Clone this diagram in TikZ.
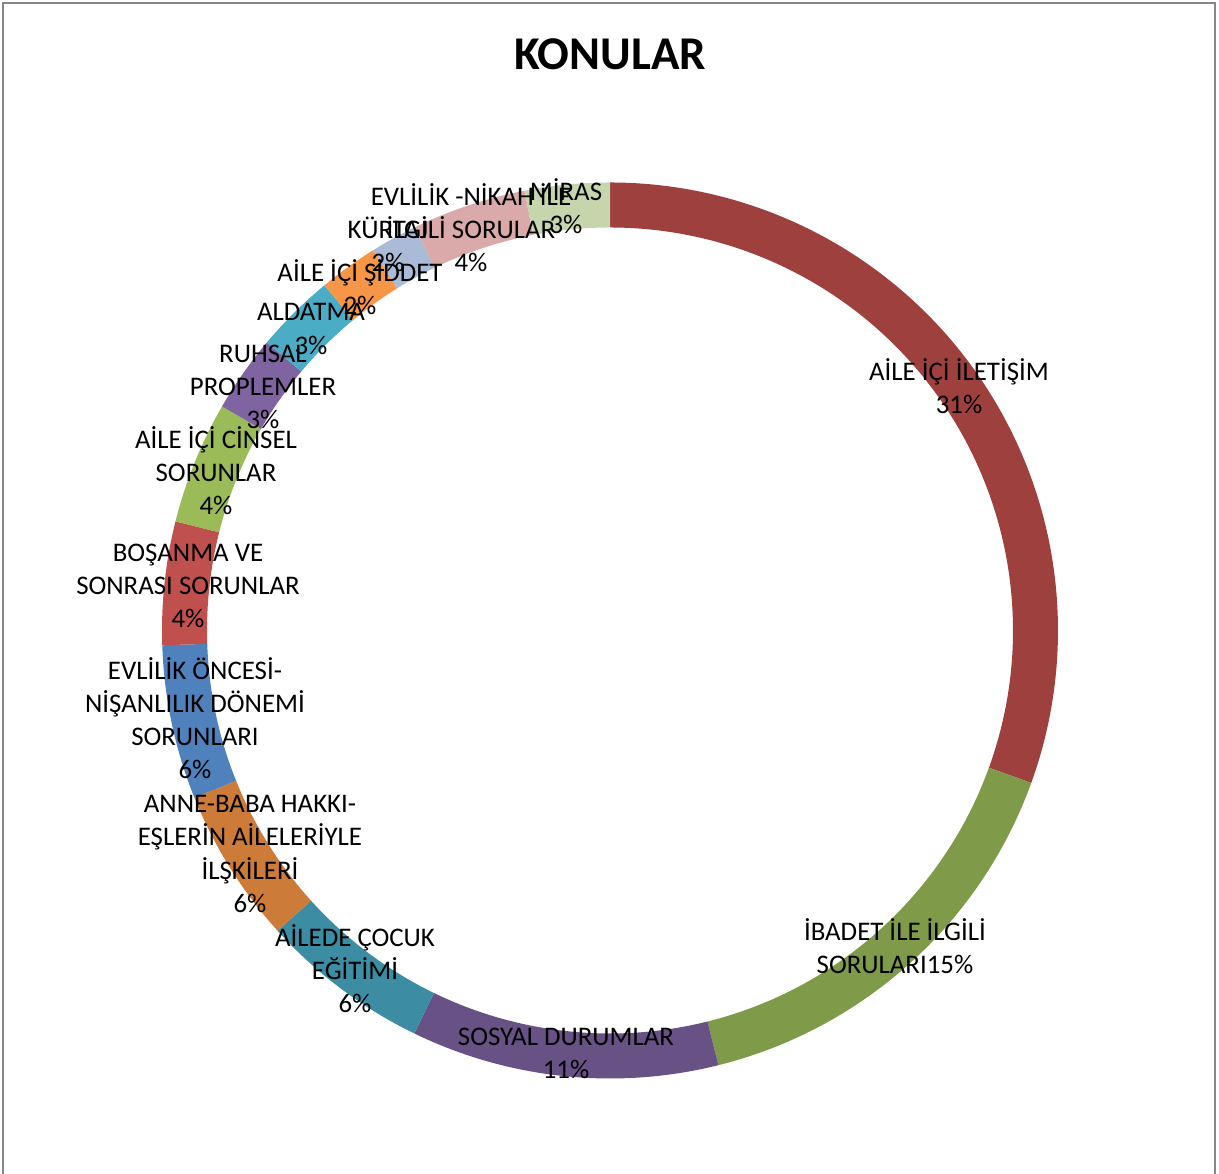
\documentclass[tikz,border=0pt]{standalone}
\usepackage{fontspec}
\setmainfont{Carlito}
\definecolor{iletisim}{RGB}{158, 65, 62}
\definecolor{ibadet}{RGB}{127, 154, 72}
\definecolor{sosyal}{RGB}{104, 81, 133}
\definecolor{cocuk}{RGB}{60, 141, 163}
\definecolor{annebaba}{RGB}{204, 123, 56}
\definecolor{nisan}{RGB}{79, 129, 189}
\definecolor{bosanma}{RGB}{192, 80, 77}
\definecolor{cinsel}{RGB}{155, 187, 89}
\definecolor{ruhsal}{RGB}{128, 100, 162}
\definecolor{aldatma}{RGB}{75, 172, 198}
\definecolor{siddet}{RGB}{247, 150, 70}
\definecolor{kurtaj}{RGB}{170, 186, 215}
\definecolor{nikah}{RGB}{217, 170, 169}
\definecolor{miras}{RGB}{198, 214, 172}
\definecolor{framegray}{RGB}{135, 135, 135}
\usetikzlibrary{positioning}

\begin{document}
\begin{tikzpicture}[x=0.025cm, y=0.025cm,
  lbl/.style={align=center, inner sep=0pt, font=\fontsize{19.1}{23.5}\selectfont}]
  \useasboundingbox (0, 0) rectangle (1219, 1174);

  % Chart frame (bottom edge is cut off)
  \draw[framegray, line width=1.4pt] (3, 0) -- (3, 1171) -- (1215, 1171) -- (1215, 0);

  % Title
  \node[font=\fontsize{33.4}{40}\selectfont\bfseries, inner sep=0pt] (title) at (610, 1120) {KONULAR};

  % Ring slices, clockwise from the top
  \begin{scope}[shift={(610, 543.5)}]
    \foreach \a/\b/\c in {90/-19.9/iletisim, -19.9/-76/ibadet, -76/-115.9/sosyal,
        -115.9/-137.9/cocuk, -137.9/-158.1/annebaba, -158.1/-178.1/nisan,
        -178.1/-194.1/bosanma, -194.1/-210/cinsel, -210/-220/ruhsal,
        -220/-230.4/aldatma, -230.4/-238.1/siddet, -238.1/-244.2/kurtaj,
        -244.2/-259/nikah, -259/-270/miras}
      \fill[\c] (\a:448) arc[start angle=\a, end angle=\b, radius=448]
        -- (\b:403) arc[start angle=\b, end angle=\a, radius=403] -- cycle;
  \end{scope}

  % Data labels
  \node[lbl] (iletisimlbl) at (959, 788) {AİLE İÇİ İLETİŞİM\\31\%};
  \node[lbl] (ibadetlbl) at (895, 228) {İBADET İLE İLGİLİ\\SORULARI15\%};
  \node[lbl] (sosyallbl) at (566, 121) {SOSYAL DURUMLAR\\11\%};
  \node[lbl] (cocuklbl) at (355, 205) {AİLEDE ÇOCUK\\EĞİTİMİ\\6\%};
  \node[lbl] (annebabalbl) at (250, 320) {ANNE-BABA HAKKI-\\EŞLERİN AİLELERİYLE\\İLŞKİLERİ\\6\%};
  \node[lbl] (nisanlbl) at (195, 456) {EVLİLİK ÖNCESİ-\\NİŞANLILIK DÖNEMİ\\SORUNLARI\\6\%};
  \node[lbl] (bosanmalbl) at (188, 588) {BOŞANMA VE\\SONRASI SORUNLAR\\4\%};
  \node[lbl] (cinsellbl) at (216, 703) {AİLE İÇİ CİNSEL\\SORUNLAR\\4\%};
  \node[lbl] (ruhsallbl) at (263, 787) {RUHSAL\\PROPLEMLER\\3\%};
  \node[lbl] (aldatmalbl) at (311, 845) {ALDATMA\\3\%};
  \node[lbl] (siddetlbl) at (360, 887) {AİLE İÇİ ŞİDDET\\2\%};
  \node[lbl] (kurtajlbl) at (388, 930) {KÜRTAJ\\2\%};
  \node[lbl] (nikahlbl) at (471, 946) {EVLİLİK -NİKAH İLE\\İLGİLİ SORULAR\\4\%};
  \node[lbl] (miraslbl) at (566, 968) {MİRAS\\3\%};
\end{tikzpicture}
\end{document}
